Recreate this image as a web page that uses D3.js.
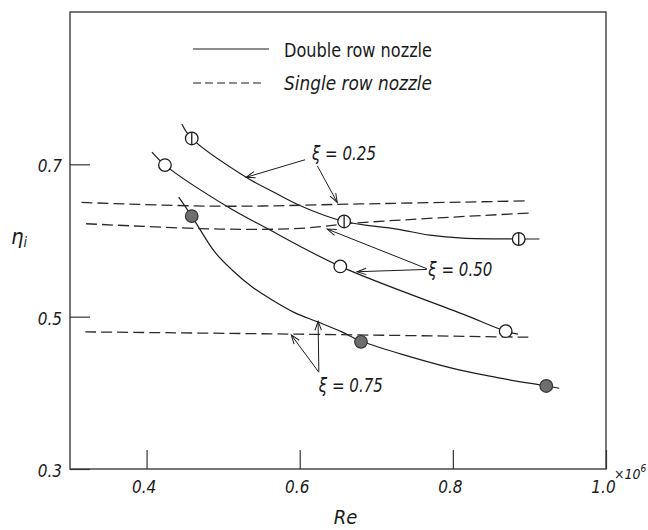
<!DOCTYPE html>
<html>
<head>
<meta charset="utf-8">
<script src="https://cdn.jsdelivr.net/npm/d3@7"></script>
<style>
  html, body { margin: 0; padding: 0; background: #fff; }
  svg { display: block; }
  text { font-family: "Liberation Sans Narrow", "DejaVu Sans Condensed", "Liberation Sans", sans-serif; fill: #1a1a1a; }
</style>
</head>
<body>
<svg id="chart" width="648" height="530"></svg>
<script>
// ---------------- data ----------------
const xTicks = [0.4, 0.6, 0.8, 1.0];
const xTickLabels = ["0.4", "0.6", "0.8", "1.0"];
const yTicks = [0.3, 0.5, 0.7];
const yTickLabels = ["0.3", "0.5", "0.7"];

// measured points (Re ×10^6, efficiency)
const xi25Points = [[0.459, 0.734], [0.658, 0.625], [0.886, 0.602]];
const xi50Points = [[0.424, 0.699], [0.653, 0.566], [0.869, 0.481]];
const xi75Points = [[0.459, 0.632], [0.680, 0.467], [0.922, 0.409]];

// faired curves, double row nozzle (solid)
const xi25Curve = [[0.446, 0.753], [0.459, 0.734], [0.530, 0.683], [0.565, 0.664], [0.600, 0.646],
                   [0.658, 0.625], [0.727, 0.615], [0.770, 0.607], [0.813, 0.603], [0.886, 0.602], [0.913, 0.602]];
const xi50Curve = [[0.407, 0.716], [0.424, 0.699], [0.503, 0.646], [0.557, 0.616], [0.653, 0.566],
                   [0.814, 0.503], [0.869, 0.481], [0.885, 0.477]];
const xi75Curve = [[0.442, 0.657], [0.459, 0.632], [0.489, 0.585], [0.512, 0.561], [0.538, 0.539],
                   [0.564, 0.522], [0.594, 0.505], [0.624, 0.493], [0.655, 0.480], [0.680, 0.468],
                   [0.796, 0.433], [0.858, 0.420], [0.922, 0.409], [0.939, 0.406]];

// single row nozzle (dashed)
const xi25Single = [[0.315, 0.650], [0.496, 0.645], [0.679, 0.648], [0.897, 0.652]];
const xi50Single = [[0.321, 0.622], [0.496, 0.615], [0.601, 0.616], [0.673, 0.623], [0.899, 0.636]];
const xi75Single = [[0.320, 0.480], [0.601, 0.477], [0.900, 0.473]];

// annotation labels and their arrows (data coordinates: from -> to)
const annLabels = [
  { text: "ξ = 0.25", at: [0.616, 0.715] },
  { text: "ξ = 0.50", at: [0.768, 0.562] },
  { text: "ξ = 0.75", at: [0.625, 0.410] }
];
const annArrows = [
  [[0.607, 0.706], [0.530, 0.683]],
  [[0.623, 0.698], [0.649, 0.650]],
  [[0.766, 0.562], [0.675, 0.559]],
  [[0.766, 0.563], [0.636, 0.615]],
  [[0.625, 0.427], [0.589, 0.476]],
  [[0.625, 0.428], [0.624, 0.494]]
];
const legendLabels = ["Double row nozzle", "Single row nozzle"];

// ---------------- drawing ----------------
const svg = d3.select("#chart");
const mL = 70, mR = 606, mT = 12, mB = 469;
const x = d3.scaleLinear().domain([0.3, 1.0]).range([mL, mR]);
const y = d3.scaleLinear().domain([0.3, 0.9]).range([mB, mT]);
const ink = "#1c1c1c";

svg.append("defs").append("marker")
  .attr("id", "arr").attr("viewBox", "-10 -5 12 10")
  .attr("refX", 0).attr("refY", 0)
  .attr("markerWidth", 12).attr("markerHeight", 10)
  .attr("markerUnits", "userSpaceOnUse")
  .attr("orient", "auto")
  .append("path").attr("d", "M-9,-3.2 L0,0 L-9,3.2")
  .attr("fill", "none").attr("stroke", ink).attr("stroke-width", 1);

// frame
svg.append("rect").attr("x", mL).attr("y", mT)
  .attr("width", mR - mL).attr("height", mB - mT)
  .attr("fill", "none").attr("stroke", "#4a4a4a").attr("stroke-width", 1.5);

// x axis (ticks inside, labels below)
const xAxis = d3.axisBottom(x).tickValues(xTicks)
  .tickFormat((d, i) => xTickLabels[i])
  .tickSizeInner(-19).tickSizeOuter(0).tickPadding(12);
const gx = svg.append("g").attr("transform", `translate(0,${mB})`).call(xAxis);
gx.select(".domain").remove();
gx.selectAll(".tick line").attr("stroke", "#333").attr("stroke-width", 1.2);
gx.selectAll(".tick text").attr("font-size", 17).attr("font-style", "italic")
  .attr("fill", ink).attr("dx", -3);

// y axis (ticks inside, labels left)
const yAxis = d3.axisLeft(y).tickValues(yTicks)
  .tickFormat((d, i) => yTickLabels[i])
  .tickSizeInner(-20).tickSizeOuter(0).tickPadding(8);
const gy = svg.append("g").attr("transform", `translate(${mL},0)`).call(yAxis);
gy.select(".domain").remove();
gy.selectAll(".tick line").attr("stroke", "#333").attr("stroke-width", 1.2);
gy.selectAll(".tick text").attr("font-size", 17).attr("font-style", "italic")
  .attr("fill", ink).attr("dy", "0.45em");

// axis titles
svg.append("text").attr("x", x(0.66)).attr("y", 524).attr("text-anchor", "middle")
  .attr("font-size", 20).attr("font-style", "italic").text("Re");
const mult = svg.append("text").attr("x", mR + 8).attr("y", 479)
  .attr("font-size", 14).attr("font-style", "italic");
mult.append("tspan").text("×10");
mult.append("tspan").attr("dy", -7).attr("font-size", 10).text("6");
const yl = svg.append("text").attr("x", 11).attr("y", 244)
  .attr("font-size", 22).attr("font-style", "italic");
yl.append("tspan").text("η");
yl.append("tspan").attr("font-size", 14).attr("dy", 3).text("i");

// lines
const smooth = d3.line().x(d => x(d[0])).y(d => y(d[1])).curve(d3.curveCatmullRom.alpha(0.5));
[xi25Curve, xi50Curve, xi75Curve].forEach(c => {
  svg.append("path").datum(c).attr("d", smooth)
    .attr("fill", "none").attr("stroke", ink).attr("stroke-width", 1.2);
});
[xi25Single, xi50Single, xi75Single].forEach(c => {
  svg.append("path").datum(c).attr("d", smooth)
    .attr("fill", "none").attr("stroke", "#2a2a2a").attr("stroke-width", 1.3)
    .attr("stroke-dasharray", "11,5");
});

// markers
const r = 6.3;
svg.append("g").selectAll("circle").data(xi50Points).join("circle")
  .attr("cx", d => x(d[0])).attr("cy", d => y(d[1])).attr("r", r)
  .attr("fill", "#fff").attr("stroke", ink).attr("stroke-width", 1.3);
const g25 = svg.append("g");
g25.selectAll("circle").data(xi25Points).join("circle")
  .attr("cx", d => x(d[0])).attr("cy", d => y(d[1])).attr("r", r)
  .attr("fill", "#fff").attr("stroke", ink).attr("stroke-width", 1.3);
g25.selectAll("line").data(xi25Points).join("line")
  .attr("x1", d => x(d[0])).attr("x2", d => x(d[0]))
  .attr("y1", d => y(d[1]) - r).attr("y2", d => y(d[1]) + r)
  .attr("stroke", ink).attr("stroke-width", 1.3);
svg.append("g").selectAll("circle").data(xi75Points).join("circle")
  .attr("cx", d => x(d[0])).attr("cy", d => y(d[1])).attr("r", r)
  .attr("fill", "#6e6e6e").attr("stroke", "#333").attr("stroke-width", 1.2);

// annotations
svg.append("g").selectAll("line").data(annArrows).join("line")
  .attr("x1", d => x(d[0][0])).attr("y1", d => y(d[0][1]))
  .attr("x2", d => x(d[1][0])).attr("y2", d => y(d[1][1]))
  .attr("stroke", ink).attr("stroke-width", 1).attr("marker-end", "url(#arr)");
svg.append("g").selectAll("text").data(annLabels).join("text")
  .attr("x", d => x(d.at[0])).attr("y", d => y(d.at[1])).attr("dy", "0.35em")
  .attr("font-size", 19).attr("font-style", "italic")
  .attr("textLength", 64).attr("lengthAdjust", "spacingAndGlyphs")
  .text(d => d.text);

// legend
svg.append("line").attr("x1", 193).attr("x2", 269).attr("y1", 49).attr("y2", 49)
  .attr("stroke", ink).attr("stroke-width", 1.2);
svg.append("line").attr("x1", 193).attr("x2", 263).attr("y1", 83).attr("y2", 83)
  .attr("stroke", ink).attr("stroke-width", 1.2).attr("stroke-dasharray", "8,4");
svg.append("g").selectAll("text").data(legendLabels).join("text")
  .attr("x", 284).attr("y", (d, i) => i === 0 ? 50 : 83).attr("dy", "0.35em")
  .attr("font-size", 20).attr("font-style", (d, i) => i === 0 ? "normal" : "italic")
  .attr("textLength", 148).attr("lengthAdjust", "spacingAndGlyphs")
  .text(d => d);
</script>
</body>
</html>
